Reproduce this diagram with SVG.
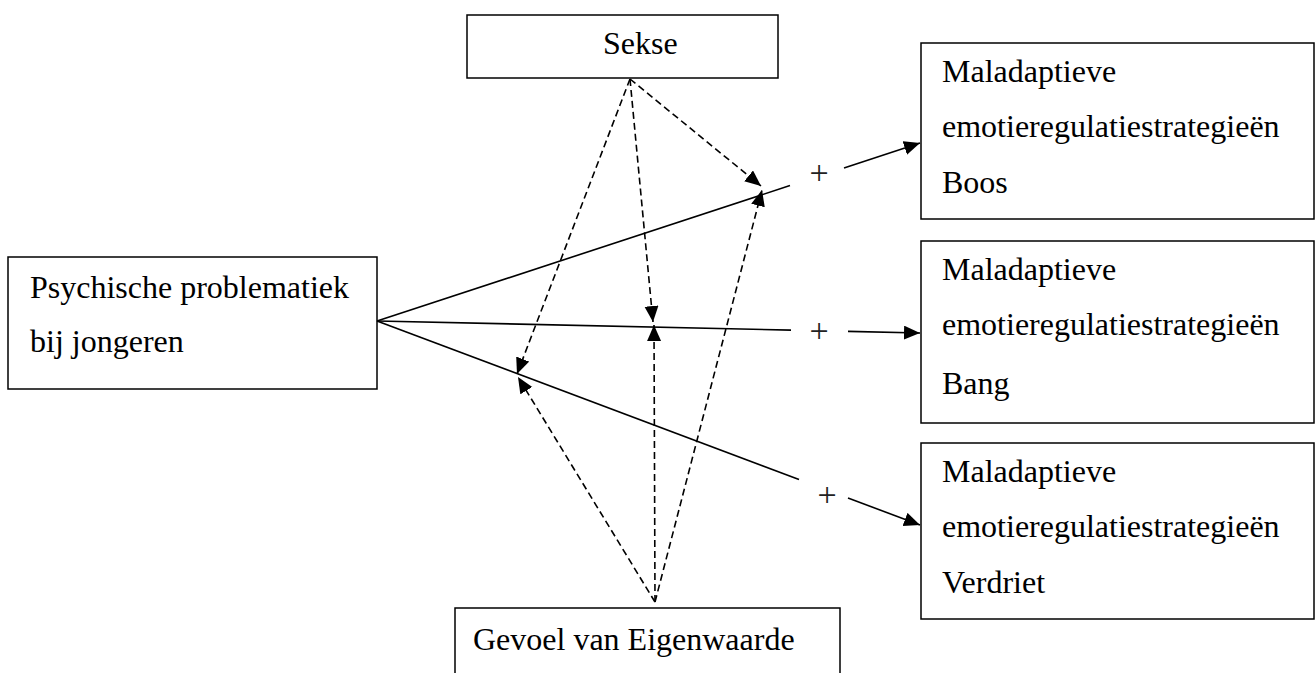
<svg xmlns="http://www.w3.org/2000/svg" width="1315" height="673" viewBox="0 0 1315 673">
<style>
  .box { fill: #ffffff; stroke: #000000; stroke-width: 1.5; }
  .t { font-family: "Liberation Serif", "Times New Roman", serif; font-size: 32px; fill: #000000; }
  .plus { font-family: "Liberation Serif", "Times New Roman", serif; font-size: 34px; fill: #222222; text-anchor: middle; }
  .solid { stroke: #000000; stroke-width: 1.6; fill: none; }
  .dash { stroke: #000000; stroke-width: 1.6; fill: none; stroke-dasharray: 7 4; }
</style>
<defs>
  <marker id="arr" markerUnits="userSpaceOnUse" markerWidth="18" markerHeight="15" refX="16" refY="7" orient="auto">
    <path d="M0,0 L16,7 L0,14 Z" fill="#000000"/>
  </marker>
</defs>
<rect width="1315" height="673" fill="#ffffff"/>

<g id="node-sekse">
  <rect class="box" x="467" y="15" width="311" height="63"/>
  <text class="t" x="603" y="54">Sekse</text>
</g>

<g id="node-psychische">
  <rect class="box" x="8" y="257" width="369" height="132"/>
  <text class="t" x="30" y="298">Psychische problematiek</text>
  <text class="t" x="30" y="352">bij jongeren</text>
</g>

<g id="node-boos">
  <rect class="box" x="921" y="43" width="393" height="176"/>
  <text class="t" x="942" y="82">Maladaptieve</text>
  <text class="t" x="942" y="137">emotieregulatiestrategieën</text>
  <text class="t" x="942" y="193">Boos</text>
</g>

<g id="node-bang">
  <rect class="box" x="921" y="241" width="393" height="182"/>
  <text class="t" x="942" y="280">Maladaptieve</text>
  <text class="t" x="942" y="335">emotieregulatiestrategieën</text>
  <text class="t" x="942" y="394">Bang</text>
</g>

<g id="node-verdriet">
  <rect class="box" x="921" y="443" width="393" height="176"/>
  <text class="t" x="942" y="482">Maladaptieve</text>
  <text class="t" x="942" y="537">emotieregulatiestrategieën</text>
  <text class="t" x="942" y="593">Verdriet</text>
</g>

<g id="node-gevoel">
  <rect class="box" x="455" y="608" width="385" height="80"/>
  <text class="t" x="473" y="650">Gevoel van Eigenwaarde</text>
</g>

<g id="connectors">
  <line class="solid" x1="377" y1="321" x2="790" y2="185.6"/>
  <line class="solid" x1="844" y1="167.9" x2="920" y2="143" marker-end="url(#arr)"/>
  <line class="solid" x1="377" y1="321" x2="791" y2="330.1"/>
  <line class="solid" x1="848" y1="331.4" x2="920" y2="333" marker-end="url(#arr)"/>
  <line class="solid" x1="377" y1="321" x2="799" y2="479.5"/>
  <line class="solid" x1="848" y1="498" x2="920" y2="525" marker-end="url(#arr)"/>

  <line class="dash" x1="630" y1="79" x2="761" y2="186" marker-end="url(#arr)"/>
  <line class="dash" x1="630" y1="79" x2="653" y2="322" marker-end="url(#arr)"/>
  <line class="dash" x1="630" y1="79" x2="517" y2="374" marker-end="url(#arr)"/>
  <line class="dash" x1="655" y1="602" x2="762" y2="190" marker-end="url(#arr)"/>
  <line class="dash" x1="655" y1="602" x2="654" y2="325" marker-end="url(#arr)"/>
  <line class="dash" x1="655" y1="602" x2="518" y2="377" marker-end="url(#arr)"/>

  <text class="plus" x="819" y="184">+</text>
  <text class="plus" x="819" y="342">+</text>
  <text class="plus" x="827" y="506">+</text>
</g>
</svg>
